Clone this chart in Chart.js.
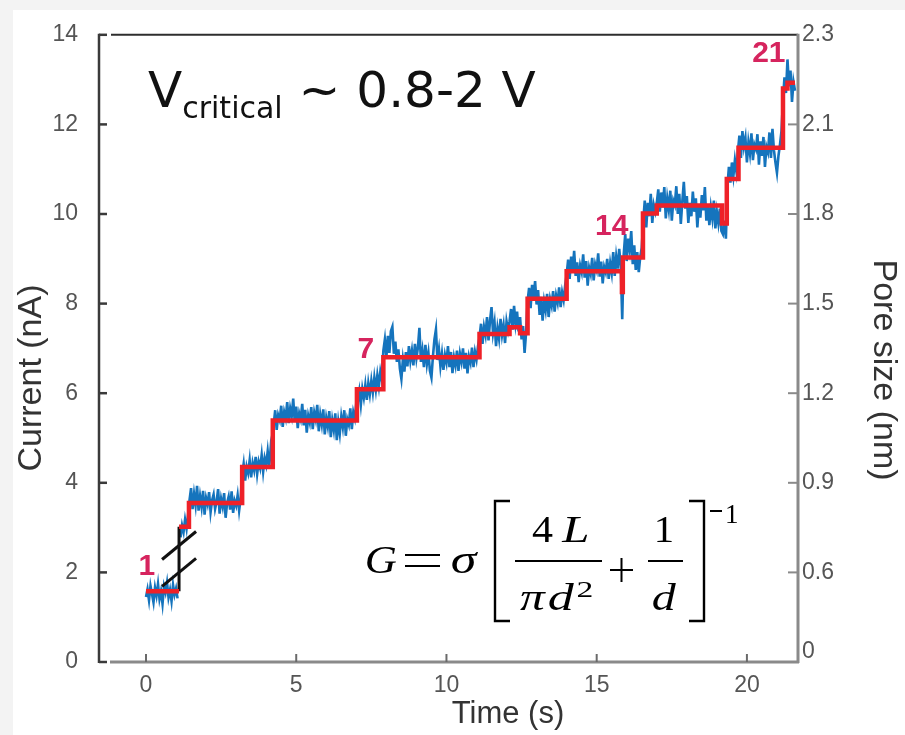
<!DOCTYPE html>
<html><head><meta charset="utf-8">
<script src="https://cdn.jsdelivr.net/npm/chart.js@4.4.1/dist/chart.umd.min.js"></script>
<style>html,body{margin:0;padding:0;background:#fff;}canvas{display:block}</style>
</head><body>
<canvas id="c" width="905" height="735"></canvas>
<script>
// ---------------- data ----------------
const xTicks = [0, 5, 10, 15, 20];
const yTicks = [0, 2, 4, 6, 8, 10, 12, 14];
const poreTickCurrents = [0.22, 2, 4, 6, 8, 10, 12, 14];
const poreTickLabels = ['0', '0.6', '0.9', '1.2', '1.5', '1.8', '2.1', '2.3'];

const blueStart = 0;      // s
const blueStep = 0.05;    // s per sample
const blueCurrent = [
 1.45,1.62,1.38,1.70,1.52,1.33,1.66,1.48,1.74,1.41,1.58,1.30,1.69,1.55,1.77,1.44,1.61,1.36,1.72,1.50,1.64,1.42,
 null,
 2.78,3.05,2.90,3.18,2.98,3.28,
 3.62,3.88,3.41,3.75,3.50,3.93,3.38,3.70,3.46,3.82,3.29,3.66,3.52,3.79,3.35,3.61,3.74,3.42,3.58,3.86,3.31,3.64,3.47,3.77,3.22,3.55,3.69,3.40,3.81,3.33,3.60,3.49,3.72,3.38,3.65,
 4.18,4.42,4.05,4.36,4.22,4.50,4.12,4.44,4.28,4.58,4.20,4.47,4.33,4.62,4.25,4.55,4.40,4.70,4.35,4.78,4.52,
 5.30,5.62,5.18,5.51,5.40,5.72,5.25,5.58,5.44,5.80,5.33,5.66,5.49,5.88,5.36,5.70,5.22,5.55,5.42,5.76,
 5.28,5.63,5.12,5.50,5.35,5.69,5.20,5.57,5.41,5.74,5.15,5.52,5.30,5.64,5.08,5.45,5.26,5.60,5.02,5.40,
 5.18,5.55,4.95,5.36,5.10,5.48,5.25,5.62,5.05,5.42,5.30,5.66,5.20,5.58,5.44,5.78,
 5.82,6.05,5.74,6.10,5.90,6.18,5.85,6.22,5.98,6.28,6.02,6.35,6.08,6.40,6.15,6.48,6.30,
 6.95,7.20,6.80,7.28,6.90,7.38,7.48,6.88,7.15,6.70,6.98,6.55,6.32,6.75,6.48,6.92,6.60,7.05,6.72,6.95,
 6.62,7.10,6.78,7.02,7.46,6.70,6.95,6.58,7.08,6.66,6.90,6.50,6.35,6.82,7.20,7.42,6.74,6.98,6.60,6.88,
 6.52,6.85,6.68,7.05,6.58,6.92,6.45,6.80,6.62,6.95,6.50,6.88,6.70,7.00,6.55,6.90,6.44,6.82,6.68,7.02,
 6.58,6.92,6.75,7.05,
 7.25,7.55,7.10,7.48,7.30,7.70,7.18,7.62,7.92,7.35,7.58,7.05,7.45,7.22,7.66,7.30,7.52,7.12,7.60,7.40,
 7.60,7.88,7.42,7.95,7.55,7.82,7.38,7.70,7.20,7.50,6.90,7.35,
 8.05,8.35,7.90,8.42,8.12,8.50,7.98,8.30,7.75,8.15,7.62,8.05,7.85,8.22,7.70,8.10,7.95,8.28,7.82,8.18,8.02,8.36,7.92,8.25,8.08,8.40,
 8.65,8.98,8.55,9.05,8.72,9.18,8.62,8.92,8.48,8.85,8.70,9.10,8.58,8.95,8.40,8.80,8.66,9.02,8.52,8.88,
 8.75,9.12,8.60,8.94,8.45,8.82,8.70,9.00,8.55,8.90,8.68,9.15,8.62,9.05,8.78,9.22,8.85,
 7.65,
 9.10,9.55,8.95,9.45,9.20,9.62,8.88,9.30,8.75,9.15,8.70,9.05,9.25,
 9.85,10.30,9.70,10.25,9.95,10.45,9.80,10.20,10.05,
 10.25,10.55,10.05,10.48,10.15,10.60,9.90,10.35,10.10,10.52,9.85,10.30,10.20,10.62,10.00,10.45,9.78,10.28,10.72,10.12,
 10.40,9.80,10.25,9.95,10.50,10.05,10.35,9.70,10.18,9.92,10.42,10.08,10.60,9.85,10.22,9.75,10.15,9.90,10.30,9.68,
 10.05,9.80,10.12,9.62,
 9.55,9.85,9.45,
 10.60,11.05,10.70,11.15,10.85,11.20,10.95,
 11.40,11.75,11.25,11.85,11.50,11.70,11.15,11.60,11.35,11.80,11.20,11.55,11.45,11.78,11.10,11.62,11.30,11.72,11.05,11.50,
 11.38,11.82,11.25,11.90,11.42,11.15,10.92,11.30,11.55,11.85,
 12.55,13.05,12.70,13.45,12.85,13.20,12.50,12.95,12.75
];

// fitted current levels (red steps): each level holds from its start time to the next
const firstLevelTimes = [0, 1.1];
const firstLevelValues = [1.58, 1.58];
const stepTimes  = [1.1, 1.43, 3.2, 4.22, 7.02, 7.9, 11.1, 12.1, 12.45, 12.7, 14.0, 15.84, 15.87, 16.54, 17.0, 19.17, 19.33, 19.72, 21.2, 21.35, 21.6];
const stepLevels = [3.02, 3.55, 4.35, 5.39, 6.09, 6.8, 7.32, 7.47, 7.34, 8.11, 8.72, 8.26, 9.03, 10.01, 10.19, 9.79, 10.78, 11.48, 12.8, 12.93, 12.93];

// event numbers
const eventLabels = ['1', '7', '14', '21'];
const eventTimes  = [0.03, 7.32, 15.5, 20.73];
const eventLevels = [2.12, 6.98, 9.72, 13.58];

const xTitle = 'Time (s)';
const yTitle = 'Current (nA)';
const y2Title = 'Pore size (nm)';

// ---------------- drawing ----------------
const BLUE = '#1574bd', RED = '#ee2128', PINK = '#d6245e';

const blueData = blueCurrent.map((v, i) => ({ x: +(blueStart + i * blueStep).toFixed(3), y: v }));
const firstData = firstLevelTimes.map((t, i) => ({ x: t, y: firstLevelValues[i] }));
const stepData = stepTimes.map((t, i) => ({ x: t, y: stepLevels[i] }));
const connectorData = [{ x: firstLevelTimes[1], y: firstLevelValues[1] }, { x: stepTimes[0], y: stepLevels[0] }];

function glyph(ctx, text, font, left, right, baseline) {
  ctx.font = font;
  const m = ctx.measureText(text);
  const ink = m.actualBoundingBoxLeft + m.actualBoundingBoxRight;
  const sx = (right - left) / ink;
  ctx.save();
  ctx.translate(left + m.actualBoundingBoxLeft * sx, baseline);
  ctx.scale(sx, 1);
  ctx.fillText(text, 0, 0);
  ctx.restore();
}

const decor = {
  id: 'decor',
  beforeDraw(chart) {
    const ctx = chart.ctx;
    ctx.save();
    ctx.fillStyle = '#ffffff';
    ctx.fillRect(0, 0, chart.width, chart.height);
    ctx.fillStyle = '#f3f3f3';
    ctx.fillRect(0, 0, chart.width, 10);
    ctx.fillRect(0, 0, 13, chart.height);
    ctx.restore();
  },
  beforeDatasetsDraw(chart) {
    const { ctx, chartArea: a, scales } = chart;
    ctx.save();
    ctx.lineCap = 'butt';
    ctx.strokeStyle = '#3a3a3a'; ctx.lineWidth = 2.5;
    ctx.beginPath(); ctx.moveTo(a.left, a.top - 1); ctx.lineTo(a.left, a.bottom + 1); ctx.stroke();
    yTicks.forEach(v => { const y = scales.y.getPixelForValue(v); ctx.beginPath(); ctx.moveTo(a.left, y); ctx.lineTo(a.left + 8, y); ctx.stroke(); });
    ctx.strokeStyle = '#2e2e2e'; ctx.lineWidth = 2;
    ctx.beginPath(); ctx.moveTo(a.left + 12, a.top); ctx.lineTo(a.right, a.top); ctx.stroke();
    ctx.strokeStyle = '#8a8a8a'; ctx.lineWidth = 3;
    ctx.beginPath(); ctx.moveTo(a.right, a.top - 1); ctx.lineTo(a.right, a.bottom + 1); ctx.stroke();
    ctx.lineWidth = 2;
    poreTickCurrents.slice(1, -1).forEach(v => { const y = scales.y2.getPixelForValue(v); ctx.beginPath(); ctx.moveTo(a.right - 10, y); ctx.lineTo(a.right, y); ctx.stroke(); });
    ctx.strokeStyle = '#8a8a8a'; ctx.lineWidth = 3;
    ctx.beginPath(); ctx.moveTo(a.left + 11, a.bottom); ctx.lineTo(a.right + 1, a.bottom); ctx.stroke();
    ctx.strokeStyle = '#6a6a6a'; ctx.lineWidth = 2;
    xTicks.forEach(v => { const x = scales.x.getPixelForValue(v); ctx.beginPath(); ctx.moveTo(x, a.bottom); ctx.lineTo(x, a.bottom - 8); ctx.stroke(); });
    ctx.restore();
  },
  afterDatasetsDraw(chart) {
    const { ctx, scales } = chart;
    const X = v => scales.x.getPixelForValue(v), Y = v => scales.y.getPixelForValue(v);
    ctx.save();
    // break marks across the first step
    const bx = X(firstLevelTimes[1]);
    ctx.strokeStyle = '#111'; ctx.lineWidth = 3;
    [Y(2.6), Y(2.0)].forEach(cy => {
      ctx.beginPath(); ctx.moveTo(bx - 17, cy + 14); ctx.lineTo(bx + 17, cy - 14); ctx.stroke();
    });
    // event numbers
    ctx.fillStyle = PINK; ctx.font = 'bold 30px "Liberation Sans", Arial, sans-serif';
    ctx.textAlign = 'center'; ctx.textBaseline = 'middle';
    eventLabels.forEach((s, i) => ctx.fillText(s, X(eventTimes[i]), Y(eventLevels[i])));
    // axis titles
    ctx.fillStyle = '#333';
    ctx.font = '31px "Liberation Sans", Arial, sans-serif';
    ctx.fillText(xTitle, 508, 714);
    ctx.font = '34px "Liberation Sans", Arial, sans-serif';
    ctx.save(); ctx.translate(32, 378); ctx.rotate(-Math.PI / 2); ctx.fillText(yTitle, 0, 0); ctx.restore();
    ctx.save(); ctx.translate(883, 370); ctx.rotate(Math.PI / 2); ctx.fillText(y2Title, 0, 0); ctx.restore();
    // V_critical annotation
    ctx.textAlign = 'left'; ctx.textBaseline = 'alphabetic'; ctx.fillStyle = '#111';
    ctx.font = '50px "DejaVu Sans", Verdana, sans-serif';
    let x = 148; ctx.fillText('V', x, 107); x += ctx.measureText('V').width;
    ctx.font = '30px "DejaVu Sans", Verdana, sans-serif';
    ctx.fillText('critical', x, 118); x += ctx.measureText('critical').width;
    ctx.font = '50px "DejaVu Sans", Verdana, sans-serif';
    ctx.fillText(' ~ 0.8-2 V', x, 107);
    // conductance formula
    const serif = '"Liberation Serif", "Times New Roman", serif';
    ctx.fillStyle = '#000';
    glyph(ctx, 'G', 'italic 40px ' + serif, 367, 397, 573);
    glyph(ctx, 'σ', 'italic 40px ' + serif, 452, 478, 573);
    glyph(ctx, '4', '38px ' + serif, 532, 553, 542);
    glyph(ctx, 'L', 'italic 38px ' + serif, 561, 588, 542);
    glyph(ctx, 'π', 'italic 38px ' + serif, 520, 546, 610);
    glyph(ctx, 'd', 'italic 38px ' + serif, 549, 575, 610);
    glyph(ctx, '2', '24px ' + serif, 578, 592, 597);
    glyph(ctx, '1', '38px ' + serif, 657, 672, 542);
    glyph(ctx, 'd', 'italic 38px ' + serif, 653, 677, 610);
    glyph(ctx, '1', '27px ' + serif, 727, 737, 523);
    ctx.strokeStyle = '#000'; ctx.lineWidth = 2;
    ctx.beginPath();
    ctx.moveTo(405, 555); ctx.lineTo(440, 555); ctx.moveTo(405, 566); ctx.lineTo(440, 566);   // =
    ctx.moveTo(610, 570); ctx.lineTo(633, 570); ctx.moveTo(621.5, 558); ctx.lineTo(621.5, 582); // +
    ctx.moveTo(710, 511); ctx.lineTo(722, 511);                                               // minus
    ctx.moveTo(515, 561); ctx.lineTo(602, 561); ctx.moveTo(648, 561); ctx.lineTo(683, 561);   // fraction bars
    ctx.stroke();
    ctx.lineWidth = 2.4;
    ctx.beginPath();
    ctx.moveTo(510, 501); ctx.lineTo(495, 501); ctx.lineTo(495, 621); ctx.lineTo(510, 621);
    ctx.moveTo(689, 501); ctx.lineTo(704, 501); ctx.lineTo(704, 621); ctx.lineTo(689, 621);
    ctx.stroke();
    ctx.restore();
  }
};

const tickFont = { family: '"Liberation Sans", Arial, sans-serif', size: 23 };

new Chart(document.getElementById('c'), {
  type: 'line',
  data: {
    datasets: [
      { data: blueData, borderColor: BLUE, borderWidth: 2.6, pointRadius: 0, spanGaps: false, yAxisID: 'y', order: 3 },
      { data: connectorData, borderColor: '#111', borderWidth: 3, pointRadius: 0, yAxisID: 'y', order: 2 },
      { data: firstData, borderColor: RED, borderWidth: 4.5, pointRadius: 0, yAxisID: 'y', order: 1 },
      { data: stepData, borderColor: RED, borderWidth: 4.5, pointRadius: 0, stepped: 'before', yAxisID: 'y', order: 0 }
    ]
  },
  options: {
    responsive: false, animation: false, devicePixelRatio: 1,
    layout: { padding: { top: 23, left: 0, right: 0, bottom: 0 } },
    plugins: { legend: { display: false }, tooltip: { enabled: false } },
    scales: {
      x: {
        type: 'linear', min: -1.564, max: 21.70,
        grid: { display: false, drawTicks: false }, border: { display: false },
        ticks: { font: tickFont, color: '#555', padding: 10, maxRotation: 0, autoSkip: false },
        afterBuildTicks: s => { s.ticks = xTicks.map(v => ({ value: v })); },
        afterFit: s => { s.height = 73; }
      },
      y: {
        position: 'left', min: 0, max: 14,
        grid: { display: false, drawTicks: false }, border: { display: false },
        ticks: { font: tickFont, color: '#555', padding: 21, autoSkip: false },
        afterBuildTicks: s => { s.ticks = yTicks.map(v => ({ value: v })); },
        afterFit: s => { s.width = 99; }
      },
      y2: {
        position: 'right', min: 0, max: 14,
        grid: { display: false, drawTicks: false }, border: { display: false },
        ticks: { font: tickFont, color: '#555', padding: 4, autoSkip: false,
                 callback: (v, i) => poreTickLabels[i] },
        afterBuildTicks: s => { s.ticks = poreTickCurrents.map(v => ({ value: v })); },
        afterFit: s => { s.width = 107; }
      }
    }
  },
  plugins: [decor]
});
</script>
</body></html>
